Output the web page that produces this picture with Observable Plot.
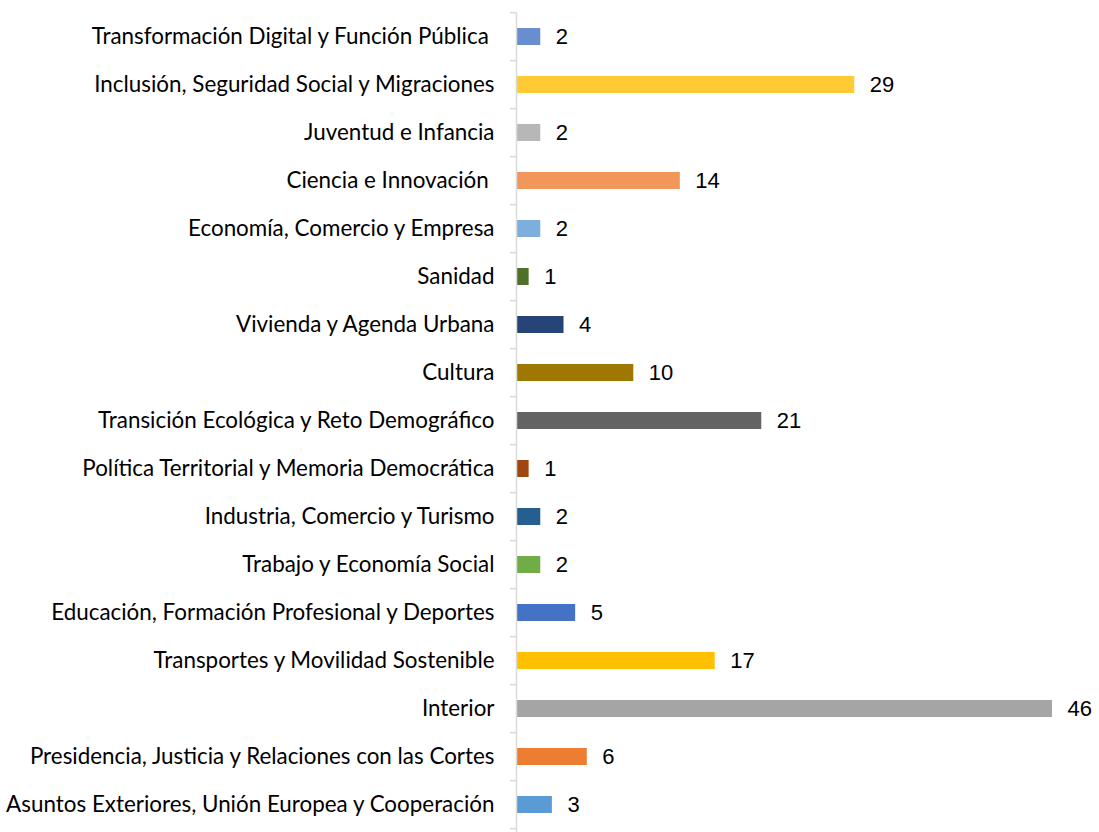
<!DOCTYPE html>
<html>
<head>
<meta charset="utf-8">
<script src="https://cdn.jsdelivr.net/npm/d3@7"></script>
<script src="https://cdn.jsdelivr.net/npm/@observablehq/plot@0.6"></script>
<style>
  html, body { margin: 0; padding: 0; background: #fff; }
  #chart svg { display: block; }
</style>
</head>
<body>
<div id="chart"></div>
<script>
const categories = [
  "Transformación Digital y Función Pública ",
  "Inclusión, Seguridad Social y Migraciones",
  "Juventud e Infancia",
  "Ciencia e Innovación ",
  "Economía, Comercio y Empresa",
  "Sanidad",
  "Vivienda y Agenda Urbana",
  "Cultura",
  "Transición Ecológica y Reto Demográfico",
  "Política Territorial y Memoria Democrática",
  "Industria, Comercio y Turismo",
  "Trabajo y Economía Social",
  "Educación, Formación Profesional y Deportes",
  "Transportes y Movilidad Sostenible",
  "Interior",
  "Presidencia, Justicia y Relaciones con las Cortes",
  "Asuntos Exteriores, Unión Europea y Cooperación"
];
const values = [2, 29, 2, 14, 2, 1, 4, 10, 21, 1, 2, 2, 5, 17, 46, 6, 3];
const colors = [
  "#698ED0", "#FFCA33", "#B7B7B7", "#F1975A", "#7CAFDD", "#4E7028",
  "#264478", "#9E7800", "#636363", "#9E480E", "#255E91", "#70AD47",
  "#4472C4", "#FFC000", "#A5A5A5", "#ED7D31", "#5B9BD5"
];

const data = categories.map((c, i) => ({ category: c, value: values[i], color: colors[i] }));
const PAD_INNER = 0.64;

function boundaryTicks(index, scales, values, dimensions) {
  const g = d3.create("svg:g");
  const y = scales.y;
  const x0 = scales.x(0);
  const step = y(categories[1]) - y(categories[0]);
  const boundaries = categories.map(c => y(c) - step * PAD_INNER / 2);
  boundaries.push(boundaries[boundaries.length - 1] + step);
  g.append("line")
    .attr("x1", x0 - 0.5).attr("x2", x0 - 0.5)
    .attr("y1", boundaries[0]).attr("y2", dimensions.height)
    .attr("stroke", "#D9D9D9").attr("stroke-width", 1.5);
  for (const b of boundaries) {
    g.append("line")
      .attr("x1", x0 - 7).attr("x2", x0 - 0.5)
      .attr("y1", b).attr("y2", b)
      .attr("stroke", "#D9D9D9").attr("stroke-width", 1.5);
  }
  return g.node();
}

const chart = Plot.plot({
  width: 1099,
  height: 832,
  marginLeft: 517,
  marginRight: 47,
  marginTop: 10,
  marginBottom: 0,
  x: { domain: [0, 46], axis: null },
  y: { domain: categories, paddingInner: PAD_INNER, paddingOuter: PAD_INNER / 2, label: null, axis: null },
  style: { background: "#fff", color: "#000" },
  marks: [
    Plot.barX(data, { y: "category", x: "value", fill: "color" }),
    Plot.axisY({
      tickSize: 0, tickPadding: 23, fontSize: 22.4,
      fontFamily: "Lato, 'Open Sans', sans-serif", fill: "#000",
      label: null
    }),
    Plot.text(data, {
      y: "category", x: "value", text: d => String(d.value),
      textAnchor: "start", dx: 15, fontSize: 22,
      fontFamily: "'Liberation Sans', Arial, sans-serif", fill: "#000"
    }),
    boundaryTicks
  ]
});
document.getElementById("chart").appendChild(chart);
</script>
</body>
</html>
